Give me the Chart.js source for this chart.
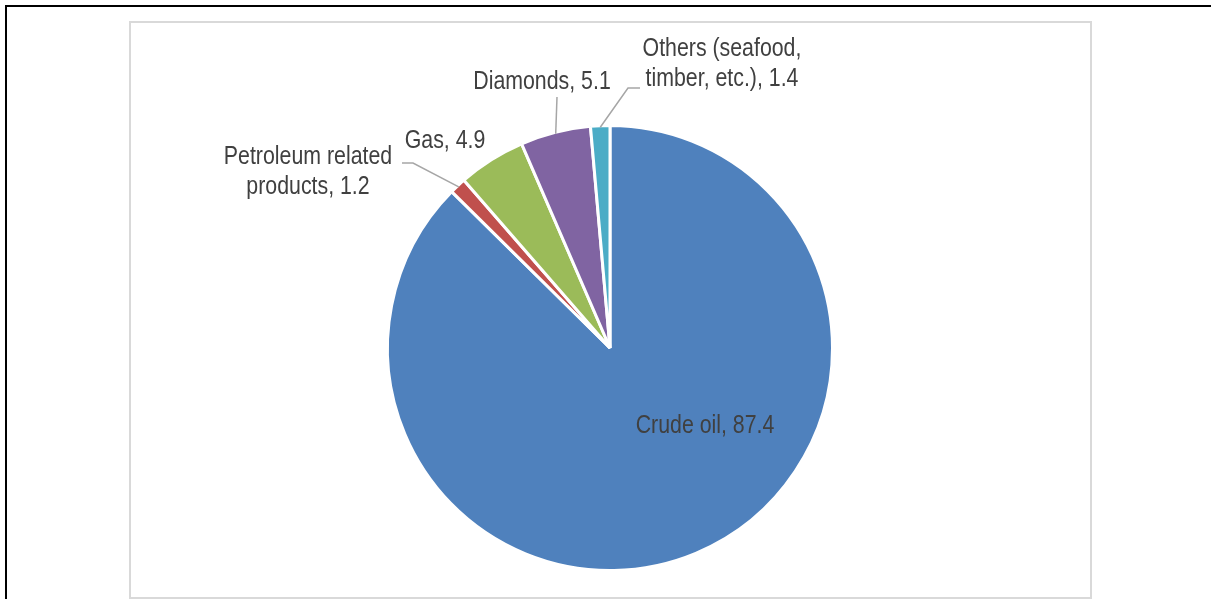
<!DOCTYPE html>
<html>
<head>
<meta charset="utf-8">
<script src="https://cdn.jsdelivr.net/npm/chart.js@4/dist/chart.umd.min.js"></script>
<style>
  body { margin: 0; background: #fff; }
  #page { position: absolute; left: 0; top: 0; width: 1211px; height: 599px; overflow: hidden; }
  #edge { position: absolute; left: 5px; top: 5px; width: 1220px; height: 620px; border-top: 2px solid #000; border-left: 2px solid #000; }
  #frame { position: absolute; left: 129px; top: 21px; width: 959px; height: 574px; border: 2px solid #d9d9d9; }
  canvas { position: absolute; left: 0; top: 0; }
</style>
</head>
<body>
<div id="page">
  <div id="edge"></div>
  <div id="frame"></div>
  <canvas id="exportPie" width="1211" height="599"></canvas>
</div>
<script>
/* --------------- Data --------------------- */
const categories = [
  ["Crude oil"],
  ["Petroleum related", "products"],
  ["Gas"],
  ["Diamonds"],
  ["Others (seafood,", "timber, etc.)"],
];
const shares = [87.4, 1.2, 4.9, 5.1, 1.4];
const sliceColors = ["#4F81BD", "#C0504D", "#9BBB59", "#8064A2", "#4BACC6"];

/* --------------- Label placement (offset from pie centre, leader path) --------------------- */
// dx/dy = text centre relative to pie centre; leader = points relative to pie centre,
// the last leader point is always the middle of the slice's outer edge
const labelSpots = [
  { dx: 95, dy: 78, leader: null },
  { dx: -302, dy: -191, leader: [[-208, -185], [-197, -185]] },
  { dx: -165, dy: -207, leader: null },
  { dx: -68, dy: -266, leader: [[-53, -251]] },
  { dx: 112, dy: -299, leader: [[30, -260], [18, -260]] },
];

// no narrow font installed, so squeeze Liberation Sans sideways (Arial Narrow look)
const NARROW = 0.82;

const pieLabels = {
  id: "pieLabels",
  afterDatasetsDraw(chart) {
    const ctx = chart.ctx;
    const arcs = chart.getDatasetMeta(0).data;
    ctx.save();
    arcs.forEach((arc, i) => {
      const p = arc.getProps(["x", "y", "startAngle", "endAngle", "outerRadius"], true);
      const spot = labelSpots[i];
      const lines = categories[i].slice();
      lines[lines.length - 1] += ", " + shares[i];
      if (spot.leader) {
        const mid = (p.startAngle + p.endAngle) / 2;
        const r = p.outerRadius - 1.5;
        ctx.strokeStyle = "#a6a6a6";
        ctx.lineWidth = 1.5;
        ctx.beginPath();
        spot.leader.forEach(([lx, ly], k) => {
          if (k === 0) ctx.moveTo(p.x + lx, p.y + ly);
          else ctx.lineTo(p.x + lx, p.y + ly);
        });
        ctx.lineTo(p.x + r * Math.cos(mid), p.y + r * Math.sin(mid));
        ctx.stroke();
      }
      lines.forEach((line, k) => {
        ctx.save();
        ctx.translate(p.x + spot.dx, p.y + spot.dy + k * 30);
        ctx.scale(NARROW, 1);
        ctx.font = '26px "Liberation Sans", Arial, sans-serif';
        ctx.textAlign = "center";
        ctx.textBaseline = "middle";
        ctx.fillStyle = "#404040";
        ctx.fillText(line, 0, 0);
        ctx.restore();
      });
    });
    ctx.restore();
  },
};

/* --------------- Chart --------------------- */
new Chart(document.getElementById("exportPie"), {
  type: "pie",
  plugins: [pieLabels],
  data: {
    labels: categories.map((c) => c.join(" ")),
    datasets: [
      {
        data: shares,
        backgroundColor: sliceColors,
        borderColor: "#ffffff",
        borderWidth: 3,
      },
    ],
  },
  options: {
    responsive: false,
    animation: false,
    layout: { padding: { top: 124, bottom: 27, left: 386, right: 377 } },
    plugins: {
      legend: { display: false },
      tooltip: { enabled: false },
    },
  },
});
</script>
</body>
</html>
